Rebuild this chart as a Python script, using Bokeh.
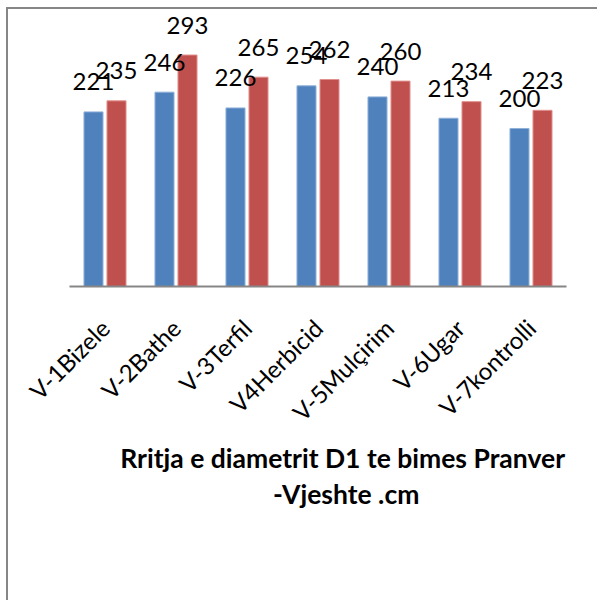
from math import pi
from bokeh.plotting import figure
from bokeh.models import ColumnDataSource, FactorRange, Range1d, Title
from bokeh.transform import dodge
from bokeh.core.properties import value
from bokeh.embed import file_html
from bokeh.resources import INLINE

categories = ["V-1Bizele", "V-2Bathe", "V-3Terfil", "V4Herbicid", "V-5Mulçirim", "V-6Ugar", "V-7kontrolli"]
series_a = [221, 246, 226, 254, 240, 213, 200]
series_b = [235, 293, 265, 262, 260, 234, 223]
labels_a = [str(v) for v in series_a]
labels_b = [str(v) for v in series_b]
title_line1 = "Rritja e diametrit D1 te bimes Pranver"
title_line2 = "-Vjeshte .cm"

src = ColumnDataSource(dict(cat=categories, a=series_a, b=series_b, la=labels_a, lb=labels_b))

p = figure(x_range=FactorRange(*categories, range_padding=0), y_range=Range1d(0, 344.3),
           width=589, height=591, output_backend="svg", toolbar_location=None,
           min_border_left=61, min_border_right=31, min_border_top=5, min_border_bottom=314)
p.margin = (9, 0, 0, 8)
p.styles = {"outline": "2px solid #868686"}

BLUE = "#4F81BD"
RED = "#C0504D"
p.vbar(x=dodge("cat", -0.162, range=p.x_range), top="a", width=0.268, source=src,
       fill_color=BLUE, line_color="#8fb0d9", line_width=1)
p.vbar(x=dodge("cat", 0.162, range=p.x_range), top="b", width=0.268, source=src,
       fill_color=RED, line_color="#e0908e", line_width=1)

font = value("Lato")
p.text(x=dodge("cat", -0.162, range=p.x_range), y="a", text="la", source=src, y_offset=-30,
       text_align="center", text_baseline="alphabetic", text_font=font, text_font_size="24px",
       text_color="black")
p.text(x=dodge("cat", 0.162, range=p.x_range), y="b", text="lb", source=src, y_offset=-30,
       text_align="center", text_baseline="alphabetic", text_font=font, text_font_size="24px",
       text_color="black")

p.yaxis.visible = False
p.xgrid.grid_line_color = None
p.ygrid.grid_line_color = None
p.outline_line_color = None
xa = p.xaxis[0]
xa.axis_line_color = "#868686"
xa.axis_line_width = 2
xa.major_tick_line_color = None
xa.minor_tick_line_color = None
xa.major_label_orientation = pi / 4
xa.major_label_text_font = "Lato"
xa.major_label_text_font_size = "24px"
xa.major_label_text_color = "black"
xa.major_label_standoff = 31

t1 = Title(text=title_line1, align="left", offset=50.7, text_font="Lato", text_font_size="26.5px",
           text_font_style="bold", text_color="black", standoff=1)
t2 = Title(text=title_line2, align="left", offset=203.5, text_font="Lato", text_font_size="26.5px",
           text_font_style="bold", text_color="black", standoff=2)
p.add_layout(t1, "below")
p.add_layout(t2, "below")

open("out.html", "w").write(file_html(p, INLINE))
